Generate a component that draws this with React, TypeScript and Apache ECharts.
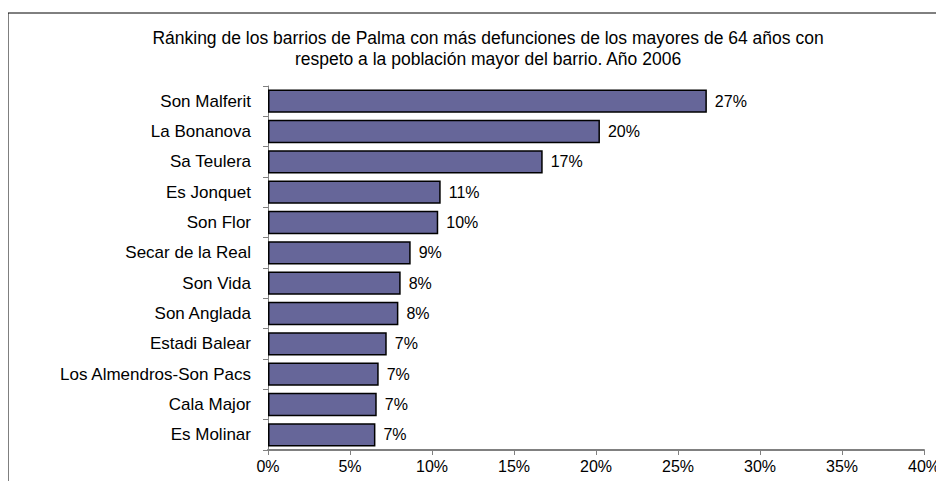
import React, { useEffect, useRef } from "react";
import * as echarts from "echarts";

const categories = [
  "Son Malferit",
  "La Bonanova",
  "Sa Teulera",
  "Es Jonquet",
  "Son Flor",
  "Secar de la Real",
  "Son Vida",
  "Son Anglada",
  "Estadi Balear",
  "Los Almendros-Son Pacs",
  "Cala Major",
  "Es Molinar",
];
const values = [26.76, 20.24, 16.75, 10.53, 10.38, 8.7, 8.09, 7.95, 7.24, 6.75, 6.63, 6.55];
const xTicks = [0, 5, 10, 15, 20, 25, 30, 35, 40];
const titleLines = [
  "Ránking de los barrios de Palma con más defunciones de los mayores de 64 años con",
  "respeto a la población mayor del barrio. Año 2006",
];

export default function App() {
  const ref = useRef<HTMLDivElement>(null);
  useEffect(() => {
    if (!ref.current) return;
    const chart = echarts.init(ref.current, undefined, { renderer: "svg" });
    const font = "'Liberation Sans', Arial, sans-serif";
    chart.setOption({
      animation: false,
      backgroundColor: "#ffffff",
      graphic: [
        {
          type: "rect",
          shape: { x: 0, y: 5, width: 1000, height: 600 },
          style: { fill: "none", stroke: "#000000", lineWidth: 1 },
          silent: true,
        },
        {
          type: "text",
          x: 480,
          y: 19,
          style: {
            text: titleLines.join("\n"),
            fill: "#000000",
            font: `17.5px ${font}`,
            align: "center",
            verticalAlign: "top",
            lineHeight: 21,
          },
        },
      ],
      grid: {
        left: 260,
        right: 20,
        top: 78,
        bottom: 31,
        containLabel: false,
        outerBoundsMode: "none",
      },
      xAxis: {
        type: "value",
        min: xTicks[0],
        max: xTicks[xTicks.length - 1],
        interval: 5,
        axisLine: { show: true, lineStyle: { color: "#808080", width: 2 } },
        axisTick: { show: true, length: 5, lineStyle: { color: "#808080" } },
        splitLine: { show: false },
        axisLabel: {
          formatter: (v: number) => `${v}%`,
          color: "#000000",
          fontSize: 16,
          fontFamily: font,
          margin: 8,
        },
      },
      yAxis: {
        type: "category",
        data: categories,
        inverse: true,
        axisLine: { show: true, lineStyle: { color: "#808080", width: 1 } },
        axisTick: { show: true, length: 5, lineStyle: { color: "#808080" } },
        axisLabel: {
          color: "#000000",
          fontSize: 17,
          fontFamily: font,
          margin: 17,
        },
      },
      series: [
        {
          type: "bar",
          data: values,
          barCategoryGap: "23%",
          itemStyle: { color: "#666699", borderColor: "#000000", borderWidth: 1.5 },
          label: {
            show: true,
            position: "right",
            distance: 8,
            formatter: (p: any) => `${Math.round(p.value)}%`,
            color: "#000000",
            fontSize: 16,
            fontFamily: font,
          },
        },
      ],
    });
    return () => chart.dispose();
  }, []);
  return <div ref={ref} style={{ width: 936, height: 473 }} />;
}
